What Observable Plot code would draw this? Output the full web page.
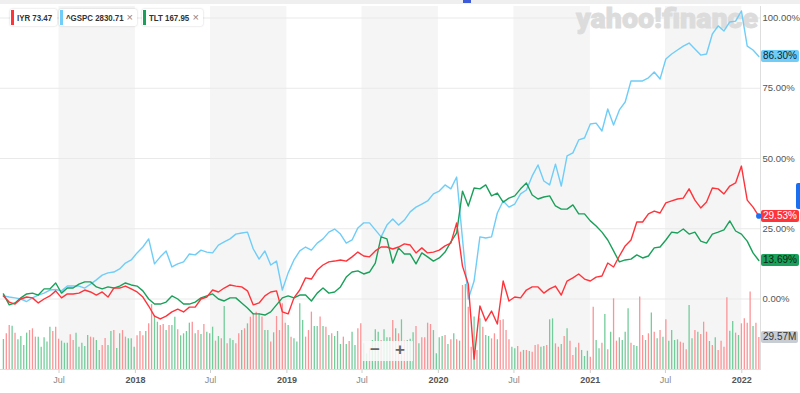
<!DOCTYPE html>
<html><head><meta charset="utf-8">
<script src="https://cdn.jsdelivr.net/npm/d3@7"></script>
<script src="https://cdn.jsdelivr.net/npm/@observablehq/plot@0.6"></script>
<style>
html,body{margin:0;padding:0;background:#fff;}
#chart{position:relative;width:800px;height:393px;overflow:hidden;font-family:"Liberation Sans",Arial,sans-serif;background:#fff;}
#chart svg{position:absolute;left:0;top:0;overflow:visible;}
.chip{position:absolute;top:9px;height:17px;background:#fff;box-shadow:0 0 2px rgba(0,0,0,.22);border-radius:2px;font-size:9.5px;font-weight:600;color:#333;line-height:17px;white-space:nowrap;box-sizing:border-box;}
.chip .bar{position:absolute;left:1px;top:1px;width:2.5px;height:15px;}
.chip .t{position:absolute;left:7px;top:0;transform:scaleX(0.83);transform-origin:0 50%;}
.chip .x{position:absolute;top:0;color:#888;font-weight:400;font-size:11px;}
.badge{position:absolute;left:761px;height:12px;line-height:12px;font-size:10px;padding:0 2px;border-radius:2px;white-space:nowrap;}
#zoomctl{position:absolute;left:362px;top:341px;width:51px;height:20px;background:rgba(250,250,250,.85);font-size:17px;font-weight:700;color:#666;}
</style></head><body><div id="chart"></div>
<script>
// ---------- data ----------
const seriesNames = ["IYR", "^GSPC", "TLT"];
const legendValues = ["73.47", "2830.71", "167.95"];
const seriesColors = ["#ff333a", "#6fcdf7", "#1aa05a"];
const lineStart = "2017-02-17";           // first biweekly observation
const iyr = [1.1,-1.1,-1.8,0,0.7,0.4,-1.4,0,1.1,2.9,
 0.4,1.8,1.8,2.1,3.2,2.5,1.4,2.5,0.7,3.9,
 3.9,4.6,3.6,2.5,0.7,-2.5,-6.1,-7.1,-6.1,-4.6,
 -3.6,-4.6,-2.9,-2.9,0,0.7,3.2,2.5,3.9,5.0,
 4.6,4.3,2.9,-2.1,-1.4,1.1,2.5,2.9,-4.6,-5.3,
 0.4,3.2,7.5,7.1,10.3,12.1,13.2,13.5,13.9,13.5,
 15.0,16.7,15.3,15.0,17.1,18.5,18.5,17.8,18.5,19.6,
 19.2,16.4,18.2,16.4,16.7,17.4,18.9,19.9,27.1,11.7,
 5.3,-21.4,-2.5,-7.8,-4.3,-8.9,6.4,-0.7,0.7,0.4,
 3.2,4.3,4.3,2.1,3.6,4.6,1.4,6.4,7.5,8.9,
 7.1,6.4,7.8,8.2,12.8,11.4,15.3,18.9,21.0,27.4,
 27.4,30.3,31.3,30.6,34.2,34.9,35.6,35.9,39.2,35.2,
 32.4,34.5,39.5,39.2,37.4,40.2,41.3,47.3,35.2,32.7,
 29.53];
const gspc = [1.1,0.7,0.4,0,-0.9,0.4,1.4,2.1,3.2,3.4,
 2.9,4.6,4.6,4.6,3.9,5.3,6.8,8.5,9.3,9.6,
 10.7,12.8,13.9,16.4,18.5,21.4,12.5,15.0,17.1,11.4,
 12.5,13.2,16.0,15.7,17.4,16.7,16.4,19.2,20.3,21.4,
 23.1,23.5,23.8,17.8,14.2,17.1,12.1,13.5,3.2,9.3,
 13.9,17.1,18.5,17.4,19.9,21.4,23.8,24.9,23.1,19.9,
 21.0,25.3,27.1,27.1,24.6,22.1,26.3,28.5,26.3,28.1,
 31.0,32.7,33.8,34.9,37.4,38.4,40.6,39.2,43.4,21.4,
 0,6.4,22.1,21.7,22.1,30.6,34.9,32.7,33.8,37.4,
 38.8,43.8,47.7,42.0,40.6,48.0,40.2,50.9,52.0,56.6,
 57.3,62.3,62.6,59.8,67.6,61.9,67.3,70.1,77.6,77.6,
 77.6,78.7,80.8,78.3,85.4,87.2,88.6,90.0,91.1,89.0,
 86.8,87.2,94.3,97.2,95.4,98.6,98.9,102.5,90.0,88.6,
 86.3];
const tlt = [1.8,-2.1,-1.4,0.4,1.8,2.1,1.4,3.6,3.6,5.7,
 2.1,3.9,3.9,5.3,6.1,6.1,4.3,3.6,4.3,3.9,
 4.6,5.7,5.0,4.6,2.9,0,-1.8,-1.8,-1.1,1.1,
 0,-1.8,-1.8,-1.1,0.4,1.1,1.8,0,-0.7,0.4,
 0.4,-1.4,-3.2,-5.3,-5.3,-5.7,-4.6,-2.1,0.4,1.1,
 0.4,1.4,1.4,-0.7,2.1,3.9,2.1,2.5,4.3,7.8,
 9.6,10.0,8.9,9.6,12.8,22.1,21.4,12.8,18.2,16.0,
 16.0,12.5,16.4,15.0,13.5,14.6,16.7,20.3,23.5,38.4,
 33.1,39.5,39.2,40.6,36.7,37.7,34.5,35.9,36.7,39.2,
 41.3,37.0,35.6,36.3,36.7,33.1,32.0,32.0,33.5,30.3,
 30.3,27.8,26.0,23.8,21.0,17.1,13.2,13.9,14.2,15.7,
 14.6,15.3,18.2,18.5,21.0,23.8,23.5,24.9,23.1,23.8,
 20.6,19.9,23.1,23.8,24.6,27.8,24.2,23.1,20.6,16.4,
 13.69];
const volStart = "2017-02-17";            // first weekly volume bar
const volume = [27.7,33.0,40.7,40.0,33.6,27.4,30.5,22.2,33.6,36.0,
 37.6,29.9,29.9,20.6,29.3,25.3,39.1,35.1,39.1,28.0,
 26.2,24.3,24.3,32.0,26.8,33.6,20.6,24.3,21.3,31.4,
 29.9,29.3,26.8,17.6,22.2,28.7,22.2,35.1,36.0,19.4,
 33.0,36.0,29.9,28.4,28.4,20.6,31.1,35.1,31.1,35.1,
 42.2,60.0,49.9,43.7,40.7,41.6,36.0,40.7,40.7,48.3,
 36.7,31.1,33.0,35.1,42.8,43.7,33.0,36.0,32.3,41.6,
 34.5,33.0,39.1,26.2,30.5,28.4,58.2,23.7,28.4,26.8,
 23.7,33.0,36.0,37.6,42.2,48.3,51.7,53.0,
 51.4,48.4,36.0,36.0,25.3,33.9,49.0,36.0,60.7,42.8,
 40.7,29.9,28.3,25.3,60.7,45.3,29.9,36.0,53.0,39.7,
 39.7,48.4,39.7,39.1,31.4,33.0,30.5,35.1,23.1,29.9,
 23.1,25.9,34.5,22.2,37.6,42.2,23.7,14.5,19.1,26.8,
 36.7,34.5,26.8,
 36.7,29.3,29.3,45.3,37.6,33.0,
 45.9,26.2,26.8,28.0,33.9,39.7,23.7,29.3,29.3,42.8,
 41.6,36.0,14.5,29.3,30.5,31.4,23.1,27.4,33.0,27.4,
 26.2,77.6,78.6,57.6,20.6,48.4,17.6,46.8,39.1,31.4,
 30.5,28.3,33.0,27.4,45.3,45.9,36.0,27.4,20.6,19.1,
 21.3,16.0,17.6,17.6,16.6,16.0,22.2,22.8,20.6,21.3,
 22.2,45.9,46.8,23.7,20.6,23.1,30.5,37.6,26.2,12.9,
 20.0,24.3,17.6,12.0,16.9,11.4,57.6,26.8,19.1,24.3,
 50.8,18.2,34.5,65.3,26.2,29.3,26.8,34.5,56.1,24.3,
 22.2,21.3,66.9,31.4,26.8,33.0,52.1,34.5,28.3,36.0,
 29.9,45.9,26.2,36.0,26.8,27.4,25.3,24.3,18.2,59.1,
 28.3,36.0,34.5,32.3,43.7,34.5,25.9,22.2,29.3,17.6,
 26.2,20.6,66.2,35.4,44.4,33.6,31.4,42.2,46.8,42.8,
 71.5,39.7,42.8,29.57];
// g = up week (green), r = down week (red)
const volDir = ("grrgrggggr"+"rrgggggrrr"+"gggrrggggg"+"rrggrrggrg"+"grrgggrrrg"+"rrggrrgrgg"+"rggggrgrgr"+"gggrgrgrgg"+"rrgrgrrr"+
 "grggrgrrrr"+"grggggrrrg"+"grgrgrgggr"+"grggrrggrg"+"ggr"+
 "gggrgr"+
 "grgggrgrrr"+"rggggrgrgr"+"grgrrgrgrg"+"grrgrrrrgg"+"rrgrgrrrgg"+"rggrrgrgrr"+"grgggrrggr"+"grgrrggggr"+"ggrrgrgrgr"+"grggggrrrg"+"grgrrrgrgr"+"rrrggrgrrr"+"rgrr").split("");
const volumeLabel = "29.57M";
const yTicks = [0, 25, 50, 75, 100];
const julTicks = ["2017-07-01","2018-07-01","2019-07-01","2020-07-01","2021-07-01"];
const yearTicks = ["2018-01-01","2019-01-01","2020-01-01","2021-01-01","2022-01-01"];
const bandYears = [2017, 2018, 2019, 2020, 2021];

// ---------- build ----------
const D0 = new Date("2017-02-10"), D1 = new Date("2022-02-15");
const lineDates = iyr.map((_, i) => d3.utcDay.offset(new Date(lineStart), 14 * i));
const mk = arr => arr.map((v, i) => ({date: lineDates[i], v}));
const iyrData = mk(iyr), gspcData = mk(gspc), tltData = mk(tlt);
const volData = volume.map((v, i) => ({date: d3.utcDay.offset(new Date(volStart), 7 * i), v, up: volDir[i] === "g"}));
const bands = bandYears.map(y => ({start: new Date(`${y}-07-01`), end: new Date(`${y + 1}-01-01`)}));
const font = '"Liberation Sans", Arial, sans-serif';
const common = {width: 800, height: 393, marginTop: 6, marginBottom: 23, marginLeft: 0, marginRight: 40,
  style: {background: "transparent", fontFamily: font, fontSize: "9px", overflow: "visible"}};
const xScale = {type: "utc", domain: [D0, D1], range: [0, 760]};
const yPct = {domain: [0, 100], range: [298.5, 17.5]};

const chart = document.getElementById("chart");
const strip = document.createElement("div");
strip.style.cssText = "position:absolute;left:0;top:0;width:800px;height:4px;background:#efefef;";
chart.appendChild(strip);

const plotA = Plot.plot({...common, x: xScale, y: yPct,
  marks: [
    Plot.rect(bands, {x1: "start", x2: "end", fill: "#f5f5f5"}),
    Plot.gridY(yTicks, {stroke: "#e9e9e9", strokeOpacity: 1}),
    Plot.ruleX([D1], {stroke: "#dedede"}),
    Plot.axisY({anchor: "right", ticks: yTicks, tickSize: 0, tickPadding: 2, fontSize: 9.5, fill: "#555",
      tickFormat: d => d.toFixed(2) + "%", label: null}),
    Plot.axisX({ticks: julTicks.map(d => new Date(d)), tickFormat: () => "Jul", tickSize: 3, tickPadding: 3,
      stroke: "#cfcfcf", fill: "#888", label: null}),
    Plot.axisX({ticks: yearTicks.map(d => new Date(d)), tickFormat: d3.utcFormat("%Y"), tickSize: 3, tickPadding: 3,
      stroke: "#cfcfcf", fill: "#555", fontWeight: "bold", label: null})
  ]});
chart.appendChild(plotA);

// watermark
const ns = "http://www.w3.org/2000/svg";
const wm = document.createElementNS(ns, "svg");
wm.setAttribute("width", 800); wm.setAttribute("height", 393);
const wt = document.createElementNS(ns, "text");
wt.setAttribute("x", 576); wt.setAttribute("y", 28);
wt.setAttribute("textLength", 182); wt.setAttribute("lengthAdjust", "spacingAndGlyphs");
wt.setAttribute("fill", "#dcdcdc"); wt.setAttribute("font-size", 27); wt.setAttribute("font-weight", 900);
wt.setAttribute("stroke", "#dcdcdc"); wt.setAttribute("stroke-width", 0.8);
wt.setAttribute("font-family", "Roboto, 'DejaVu Sans', sans-serif");
wt.textContent = "yahoo!finance";
wm.appendChild(wt); chart.appendChild(wm);

const plotB = Plot.plot({...common, x: {...xScale, axis: null}, y: {domain: [0, 29.57], range: [369, 337], axis: null},
  color: {type: "identity"},
  marks: [
    Plot.ruleX(volData, {x: "date", y1: 0, y2: "v", stroke: d => d.up ? "#74cc9b" : "#fb9497", strokeWidth: 1.3}),
    Plot.ruleY([0], {stroke: "#dcdcdc"})
  ]});
chart.appendChild(plotB);

const plotC = Plot.plot({...common, x: {...xScale, axis: null}, y: {...yPct, axis: null},
  marks: [
    Plot.line(gspcData, {x: "date", y: "v", stroke: seriesColors[1], strokeWidth: 1.4}),
    Plot.line(tltData, {x: "date", y: "v", stroke: seriesColors[2], strokeWidth: 1.4}),
    Plot.line(iyrData, {x: "date", y: "v", stroke: seriesColors[0], strokeWidth: 1.4}),
    Plot.dot([iyrData[iyrData.length - 1]], {x: "date", y: "v", r: 2.8, fill: "#1f6ff0"})
  ]});
chart.appendChild(plotC);

// end-value badges
const ys = plotC.scale("y"), vs = plotB.scale("y");
function badge(text, y, bg, fg) {
  const b = document.createElement("div");
  b.className = "badge"; b.textContent = text;
  b.style.top = (y - 6) + "px"; b.style.background = bg; b.style.color = fg;
  chart.appendChild(b);
}
badge(gspc[gspc.length - 1].toFixed(2) + "%", ys.apply(gspc[gspc.length - 1]), "#6fcdf7", "#0d2533");
badge(iyr[iyr.length - 1].toFixed(2) + "%", ys.apply(iyr[iyr.length - 1]), "#ff333a", "#ffffff");
badge(tlt[tlt.length - 1].toFixed(2) + "%", ys.apply(tlt[tlt.length - 1]), "#1aa05a", "#0a1f12");
badge(volumeLabel, vs.apply(volume[volume.length - 1]), "#c8ccd3", "#333");

// legend chips
const chipGeom = [[10, 47], [59, 78], [142, 61]];
seriesNames.forEach((n, i) => {
  const c = document.createElement("div");
  c.className = "chip";
  c.style.left = chipGeom[i][0] + "px"; c.style.width = chipGeom[i][1] + "px";
  c.innerHTML = `<span class="bar" style="background:${seriesColors[i]}"></span><span class="t"></span>` + (i > 0 ? `<span class="x" style="right:4px">×</span>` : "");
  c.querySelector(".t").textContent = n + " " + legendValues[i];
  chart.appendChild(c);
});

// zoom control and small UI marks
const zc = document.createElement("div");
zc.id = "zoomctl";
zc.innerHTML = '<span style="position:absolute;left:8px;top:-1px">−</span><span style="position:absolute;left:33px;top:-1px">+</span>';
chart.appendChild(zc);
const m1 = document.createElement("div");
m1.style.cssText = "position:absolute;left:463px;top:0;width:8px;height:3px;background:#3d5ad8;";
chart.appendChild(m1);
const m2 = document.createElement("div");
m2.style.cssText = "position:absolute;left:796px;top:183px;width:4px;height:26px;background:#1a6ff0;border-radius:2px 0 0 2px;";
chart.appendChild(m2);
</script></body></html>
